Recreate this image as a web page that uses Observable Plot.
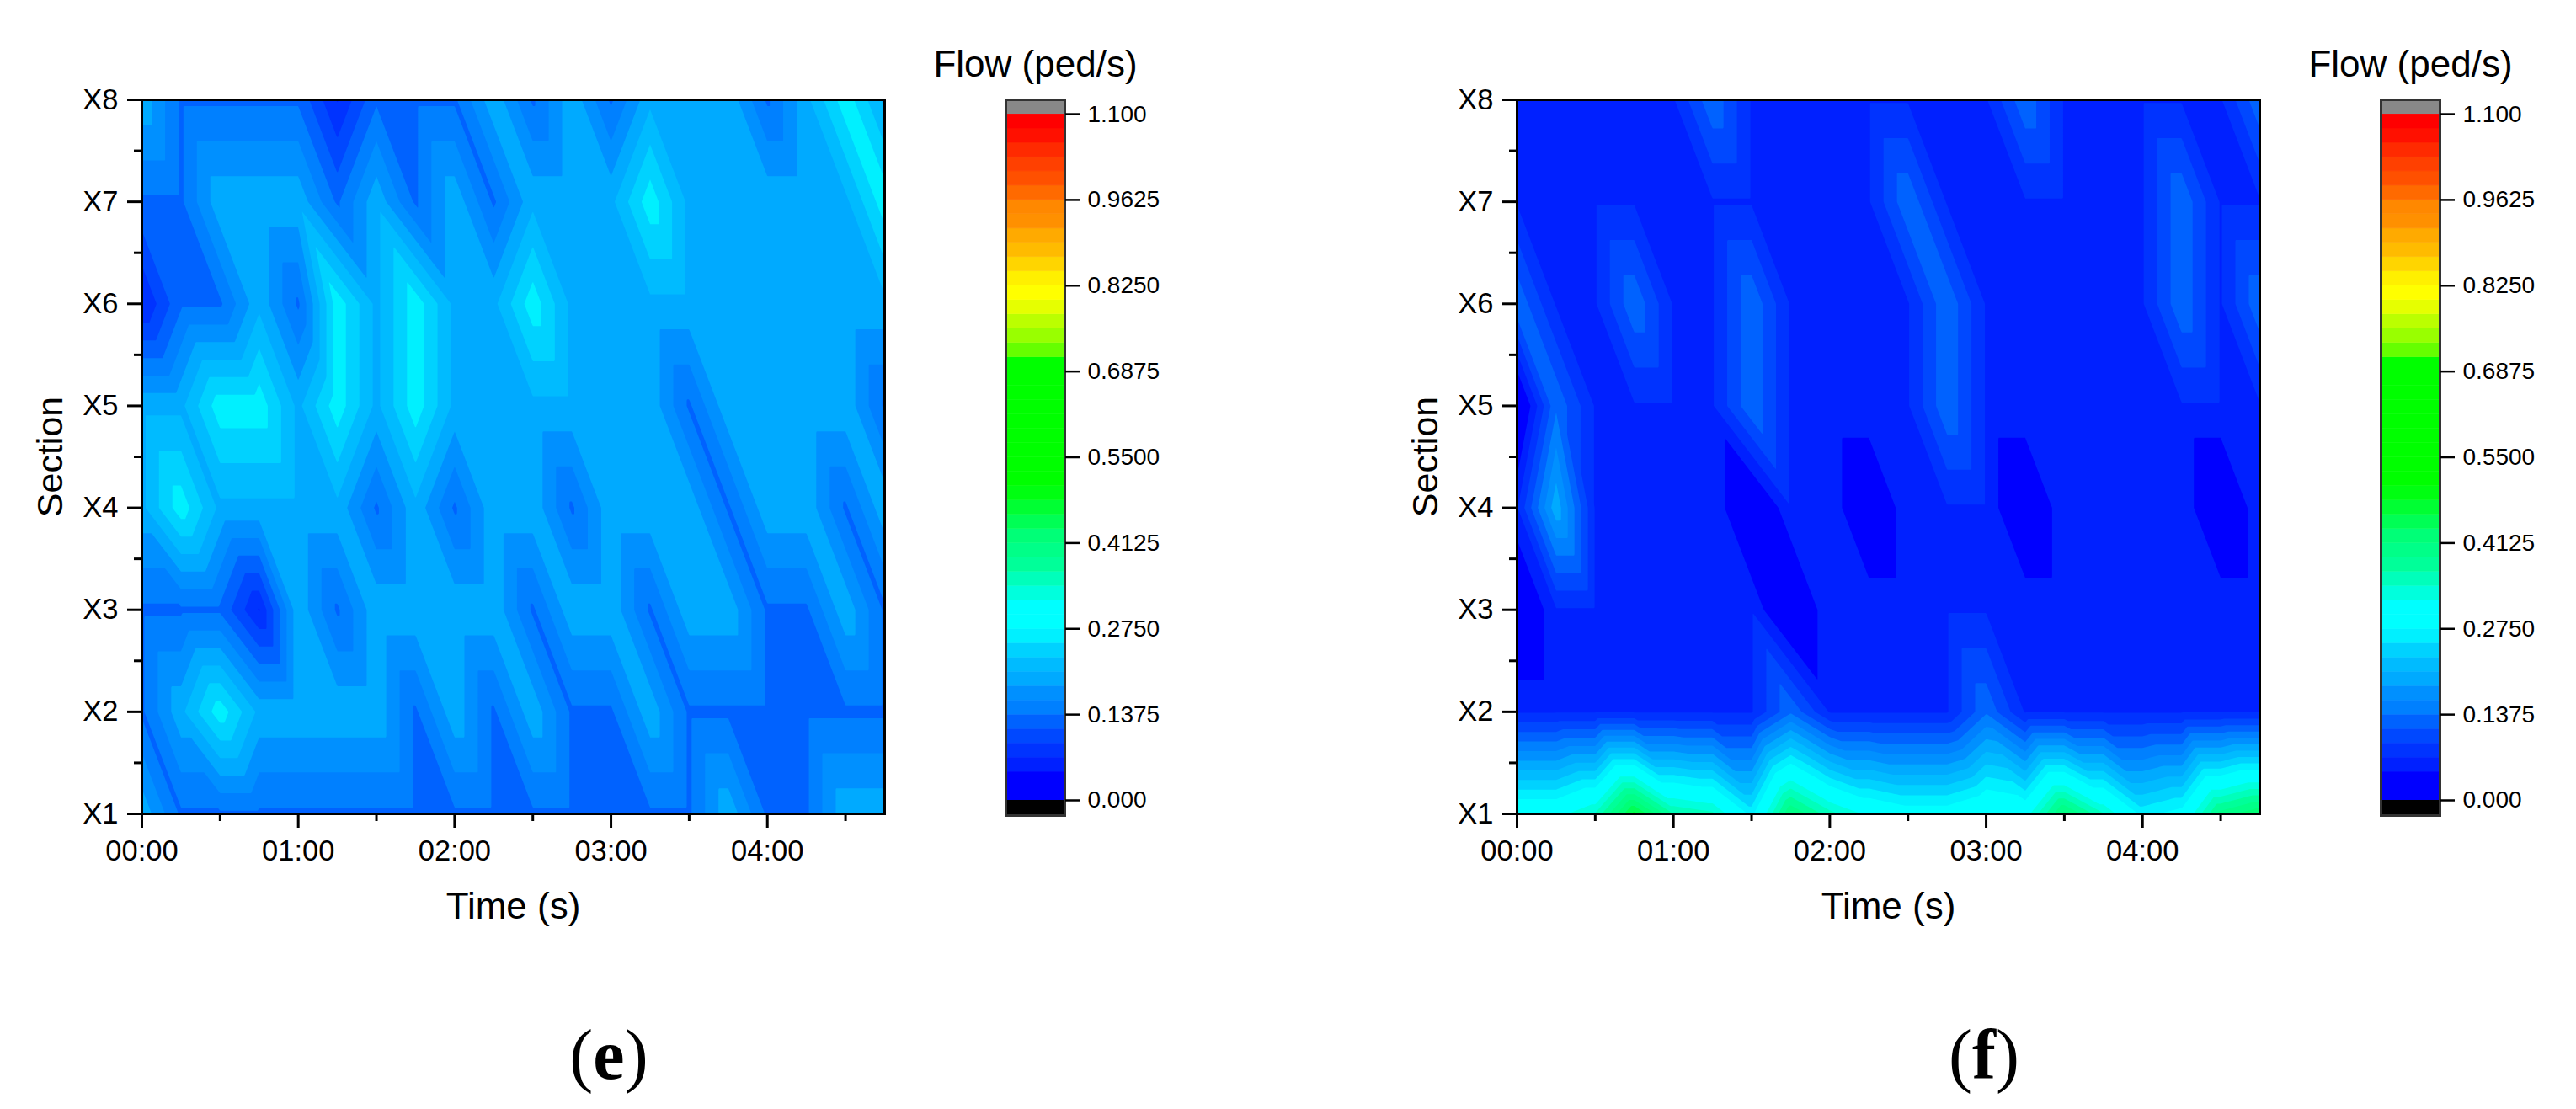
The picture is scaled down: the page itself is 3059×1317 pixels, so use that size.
<!DOCTYPE html>
<html><head><meta charset="utf-8">
<script src="https://cdn.jsdelivr.net/npm/d3@7"></script>
<script src="https://cdn.jsdelivr.net/npm/@observablehq/plot@0.6"></script>
<style>
html,body{margin:0;padding:0;background:#fff}
#page{position:relative;width:3059px;height:1317px;overflow:hidden;background:#fff}
#page svg{position:absolute;top:0;max-width:none;background:transparent}
.cap{position:absolute;top:1194px;width:200px;text-align:center;font:84px/1.4 "Liberation Serif",serif;color:#000}
.cap b{font-weight:700}
</style></head><body><div id="page"></div>
<script>
// Pedestrians counted per 15 s interval; one value per time step, rows by section.
const stepSeconds = 15;
const timeTicks = [0, 60, 120, 180, 240];
const timeLabels = ["00:00", "01:00", "02:00", "03:00", "04:00"];
const timeMinor = [30, 90, 150, 210, 270];
const sectionTicks = [1, 2, 3, 4, 5, 6, 7, 8];
const sectionLabels = ["X1", "X2", "X3", "X4", "X5", "X6", "X7", "X8"];
const sectionMinor = [1.5, 2.5, 3.5, 4.5, 5.5, 6.5, 7.5];

const panelE_X1 = [3,2,2,2,2,2,2,2,2,2,2,2,2,2,2,3,2,2,3,3];
const panelE_X2 = [2,3,4,3,3,3,3,2,3,2,3,2,2,3,2,2,2,2,2,2];
const panelE_X3 = [2,2,2,1,3,2,3,3,3,3,2,3,3,2,3,3,2,2,3,2];
const panelE_X4 = [3,4,3,3,3,3,2,3,2,3,3,2,3,3,3,2,3,3,2,3];
const panelE_X5 = [3,3,4,4,3,4,3,4,3,3,3,3,3,3,2,3,3,3,3,2];
const panelE_X6 = [1,2,2,3,2,4,3,4,3,3,4,3,3,3,3,3,3,3,3,3];
const panelE_X7 = [2,2,3,3,3,2,3,2,3,2,3,3,3,4,3,3,3,3,3,4];
const panelE_X8 = [3,2,2,2,2,1,2,2,2,3,2,3,2,3,3,3,2,3,4,3];

const panelF_X1 = [4.65,4.65,5.2,7,5.5,5.25,4,6.2,5.3,4.7,4.4,4.4,4.8,4.6,6.3,5.2,4,4.3,6,6.5];
const panelF_X2 = [1,1,1,1,1,1,1,2,1,1,1,1,2,1,1,1,1,1,1,1];
const panelF_X3 = [0,1,1,1,1,1,1,0,1,1,1,1,1,1,1,1,1,1,1,1];
const panelF_X4 = [1,3,1,1,1,1,0,1,1,0,1,1,1,0,1,1,1,1,0,1];
const panelF_X5 = [0,2,1,1,1,1,2,1,1,1,1,2,1,1,1,1,1,1,1,1];
const panelF_X6 = [2,1,1,2,1,1,2,1,1,1,1,2,1,1,1,1,1,2,1,2];
const panelF_X7 = [1,1,1,1,1,1,1,1,1,1,2,1,1,1,1,1,1,2,1,1];
const panelF_X8 = [1,1,1,1,1,2,1,1,1,1,1,1,1,2,1,1,1,1,1,2];

const levelBounds = [0,0.0229167,0.0458333,0.06875,0.0916667,0.114583,0.1375,0.160417,0.183333,0.20625,0.229167,0.252083,0.275,0.297917,0.320833,0.34375,0.366667,0.389583,0.4125,0.435417,0.458333,0.48125,0.504167,0.527083,0.55,0.572917,0.595833,0.61875,0.641667,0.664583,0.6875,0.710417,0.733333,0.75625,0.779167,0.802083,0.825,0.847917,0.870833,0.89375,0.916667,0.939583,0.9625,0.985417,1.00833,1.03125,1.05417,1.07708,1.1];
const levelColors = ["#0000ff","#0000ff","#0020ff","#0033ff","#0048ff","#0062ff","#0080ff","#0090ff","#00aaff","#00bbff","#00d2ff","#00f0ff","#00ffff","#00ffff","#00ffdd","#00ffbb","#00ff99","#00ff88","#00ff77","#00ff55","#00ff33","#00ff11","#00ff00","#00ff00","#00ff00","#00ff00","#00ff00","#00ff00","#00ff00","#00ff00","#00ff00","#66ff00","#99ff00","#bbff00","#e6ff00","#ffff00","#fff000","#ffd500","#ffbb00","#ffaa00","#ff9000","#ff8800","#ff6a00","#ff5000","#ff4000","#ff2a00","#ff1000","#ff0000"];
const barTicks = [0, 0.1375, 0.275, 0.4125, 0.55, 0.6875, 0.825, 0.9625, 1.1];
const barLabels = ["0.000","0.1375","0.2750","0.4125","0.5500","0.6875","0.8250","0.9625","1.100"];

const panelE = [panelE_X1,panelE_X2,panelE_X3,panelE_X4,panelE_X5,panelE_X6,panelE_X7,panelE_X8];
const panelF = [panelF_X1,panelF_X2,panelF_X3,panelF_X4,panelF_X5,panelF_X6,panelF_X7,panelF_X8];

const font = '"Liberation Sans", Arial, sans-serif';
const page = document.getElementById("page");

// Triangulated linear interpolation on the grid (each cell split along its upper-left/lower-right diagonal).
function field(rows) {
  const nc = rows[0].length, nr = rows.length;
  return (x, y) => {
    const u = x / stepSeconds, v = y - 1;
    const i = Math.max(0, Math.min(Math.floor(u), nc - 2));
    const j = Math.max(0, Math.min(Math.floor(v), nr - 2));
    const fu = u - i, fv = v - j;
    const ll = rows[j][i], lr = rows[j][i+1], ul = rows[j+1][i], ur = rows[j+1][i+1];
    const n = fu + fv <= 1
      ? ll + fu * (lr - ll) + fv * (ul - ll)
      : ur + (1 - fu) * (ul - ur) + (1 - fv) * (lr - ur);
    return n / stepSeconds;
  };
}

function heat(rows, left) {
  const svg = Plot.plot({
    width: 1100, height: 1317,
    marginLeft: 168, marginRight: 50, marginTop: 118, marginBottom: 351,
    style: {fontFamily: font, fontSize: "34.5px", color: "#000", background: "transparent"},
    x: {domain: [0, 285], axis: null},
    y: {domain: [1, 8], axis: null},
    color: {type: "threshold", domain: levelBounds.slice(1, -1), range: levelColors},
    marks: [
      Plot.contour({fill: field(rows), x1: 0, x2: 285, y1: 1, y2: 8, pixelSize: 1, thresholds: levelBounds.slice(0, -1), stroke: "none", blur: 0}),
      Plot.frame({stroke: "#000", strokeWidth: 3}),
      Plot.axisX(timeTicks, {anchor: "bottom", tickSize: 17, tickPadding: 14, strokeWidth: 3, tickFormat: d => timeLabels[timeTicks.indexOf(d)], fontSize: 34.5, label: null}),
      Plot.axisX(timeMinor, {anchor: "bottom", tickSize: 9, strokeWidth: 3, fill: "none", label: null}),
      Plot.axisY(sectionTicks, {anchor: "left", tickSize: 17, tickPadding: 11, strokeWidth: 3, tickFormat: d => sectionLabels[d - 1], fontSize: 34.5, label: null}),
      Plot.axisY(sectionMinor, {anchor: "left", tickSize: 9, strokeWidth: 3, fill: "none", label: null}),
      Plot.text(["Time (s)"], {frameAnchor: "bottom", dy: 124, fontSize: 44, fill: "#000"}),
      Plot.text(["Section"], {frameAnchor: "left", textAnchor: "middle", dx: -108, rotate: -90, fontSize: 43, fill: "#000"})
    ]
  });
  svg.style.left = left + "px";
  page.appendChild(svg);
}

function bar(left) {
  const bands = levelColors.map((c, i) => ({lo: levelBounds[i], hi: levelBounds[i+1], c}));
  const svg = Plot.plot({
    width: 400, height: 1317,
    marginLeft: 94, marginRight: 236, marginTop: 118, marginBottom: 349,
    style: {fontFamily: font, fontSize: "28px", color: "#000", background: "transparent"},
    x: {domain: [0, 1], axis: null},
    y: {domain: [-0.0243, 1.123], axis: null},
    marks: [
      Plot.rect(bands, {x1: 0, x2: 1, y1: "lo", y2: "hi", fill: "c", stroke: "c", strokeWidth: 0.5}),
      Plot.rect([{lo: 1.1, hi: 1.123}], {x1: 0, x2: 1, y1: "lo", y2: "hi", fill: "#888888"}),
      Plot.rect([{lo: -0.0243, hi: 0}], {x1: 0, x2: 1, y1: "lo", y2: "hi", fill: "#000000"}),
      Plot.frame({stroke: "#333", strokeWidth: 3}),
      Plot.axisY(barTicks, {anchor: "right", tickSize: 17, tickPadding: 10, strokeWidth: 2.5, tickFormat: d => barLabels[barTicks.indexOf(d)], fontSize: 28, label: null}),
      Plot.text(["Flow (ped/s)"], {frameAnchor: "top", dy: -59, fontSize: 44, fill: "#000"})
    ]
  });
  svg.style.left = left + "px";
  page.appendChild(svg);
}

function caption(letter, center) {
  const d = document.createElement("div");
  d.className = "cap";
  d.style.left = (center - 100) + "px";
  d.innerHTML = "(<b>" + letter + "</b>)";
  page.appendChild(d);
}

heat(panelE, 0);
bar(1100);
caption("e", 723);
heat(panelF, 1633);
bar(2733);
caption("f", 2356);
</script></body></html>
